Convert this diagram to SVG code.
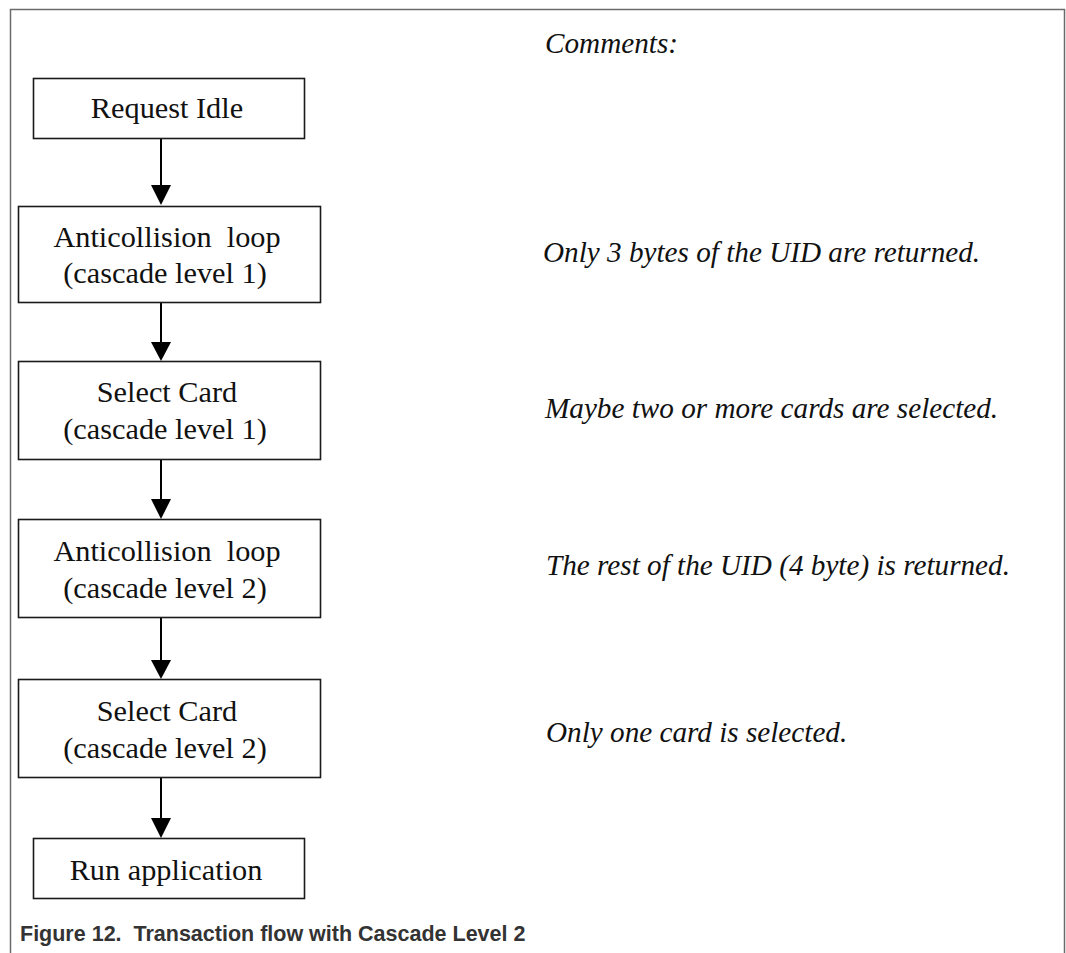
<svg xmlns="http://www.w3.org/2000/svg" width="1066" height="953" viewBox="0 0 1066 953">
  <style>
    .box { fill: #ffffff; stroke: #1a1a1a; stroke-width: 1.6; }
    .lbl { font-family: "Liberation Serif", "Times New Roman", serif; font-size: 30.3px; fill: #111111; text-anchor: middle; }
    .note { font-family: "Liberation Serif", "Times New Roman", serif; font-size: 29.2px; font-style: italic; fill: #111111; }
    .edge { stroke: #000000; stroke-width: 2; fill: none; }
    .head { fill: #000000; }
    .frame { stroke: #6b6b6b; stroke-width: 1.5; fill: none; }
    .caption { font-family: "Liberation Sans", Arial, sans-serif; font-size: 21.5px; font-weight: bold; fill: #333333; }
  </style>

  <rect width="1066" height="953" fill="#ffffff"/>

  <!-- figure frame: top and sides, open at the bottom -->
  <path class="frame" d="M10.5,953 V9.5 H1064.5 V953"/>

  <!-- connectors -->
  <g id="connectors">
    <line class="edge" x1="161" y1="139" x2="161" y2="187"/>
    <polygon class="head" points="151,185 171,185 161,205"/>
    <line class="edge" x1="161" y1="302" x2="161" y2="344"/>
    <polygon class="head" points="151,342 171,342 161,361"/>
    <line class="edge" x1="161" y1="459" x2="161" y2="501"/>
    <polygon class="head" points="151,499 171,499 161,519"/>
    <line class="edge" x1="161" y1="617" x2="161" y2="662"/>
    <polygon class="head" points="151,660 171,660 161,679"/>
    <line class="edge" x1="161" y1="777" x2="161" y2="820"/>
    <polygon class="head" points="151,818 171,818 161,838"/>
  </g>

  <g id="request-idle">
    <rect class="box" x="33.5" y="78.5" width="271" height="60"/>
    <text class="lbl" x="167" y="118">Request Idle</text>
  </g>

  <g id="anticollision-1">
    <rect class="box" x="18.5" y="206.5" width="302" height="96"/>
    <text class="lbl" x="167" y="247" xml:space="preserve">Anticollision  loop</text>
    <text class="lbl" x="165" y="283">(cascade level 1)</text>
  </g>

  <g id="select-1">
    <rect class="box" x="18.5" y="361.5" width="302" height="98"/>
    <text class="lbl" x="167" y="402">Select Card</text>
    <text class="lbl" x="165" y="439">(cascade level 1)</text>
  </g>

  <g id="anticollision-2">
    <rect class="box" x="18.5" y="519.5" width="302" height="98"/>
    <text class="lbl" x="167" y="561" xml:space="preserve">Anticollision  loop</text>
    <text class="lbl" x="165" y="598">(cascade level 2)</text>
  </g>

  <g id="select-2">
    <rect class="box" x="18.5" y="679.5" width="302" height="98"/>
    <text class="lbl" x="167" y="721">Select Card</text>
    <text class="lbl" x="165" y="758">(cascade level 2)</text>
  </g>

  <g id="run-application">
    <rect class="box" x="33.5" y="838.5" width="271" height="60"/>
    <text class="lbl" x="166" y="880">Run application</text>
  </g>

  <!-- comments column -->
  <g id="comments">
    <text class="note" x="545" y="53">Comments:</text>
    <text class="note" x="543" y="262">Only 3 bytes of the UID are returned.</text>
    <text class="note" x="545" y="418">Maybe two or more cards are selected.</text>
    <text class="note" x="546" y="575">The rest of the UID (4 byte) is returned.</text>
    <text class="note" x="546" y="742">Only one card is selected.</text>
  </g>

  <text class="caption" x="20" y="941" xml:space="preserve">Figure 12.  Transaction flow with Cascade Level 2</text>
</svg>
